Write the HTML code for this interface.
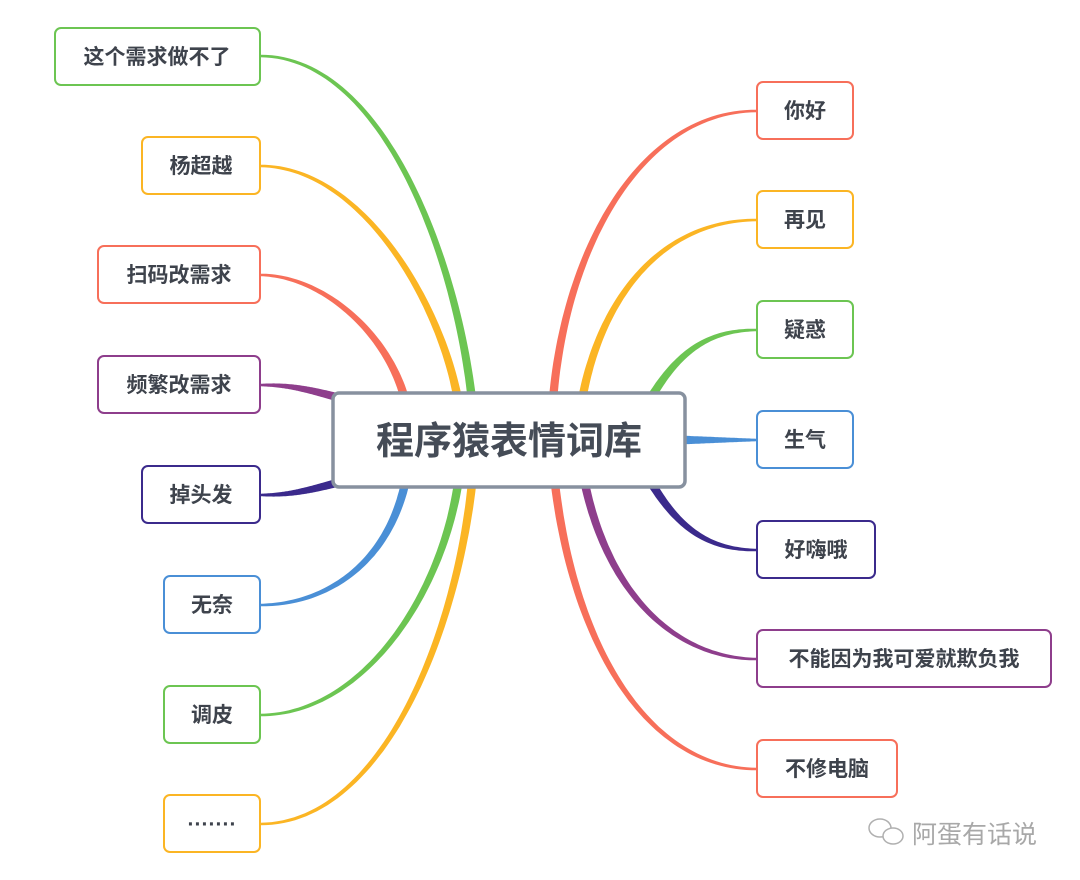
<!DOCTYPE html>
<html><head><meta charset="utf-8"><style>
html,body{margin:0;padding:0;background:#fff;}
svg{display:block}
text{font-family:"Liberation Sans","Noto Sans CJK SC",sans-serif;}
</style></head><body>
<svg id="s" width="1080" height="880" viewBox="0 0 1080 880" xmlns="http://www.w3.org/2000/svg">
<g id="conns" fill="none" stroke-width="4.5">
  <path stroke="#6cc552" d="M472,400 C455,250 380,56 260,56"/>
  <path stroke="#fbb524" d="M458,400 C440,300 360,166 260,166"/>
  <path stroke="#f76f5a" d="M404,396 C385,330 320,275 260,275"/>
  <path stroke="#8e3e8c" d="M340,398 C300,387 285,385 260,385"/>
  <path stroke="#3b2a8c" d="M340,482 C300,493 285,495 260,495"/>
  <path stroke="#4a8fd6" d="M405,484 C385,570 320,605 260,605"/>
  <path stroke="#6cc552" d="M458,484 C440,600 360,715 260,715"/>
  <path stroke="#fbb524" d="M472,484 C455,640 380,824 260,824"/>
  <path stroke="#f76f5a" d="M553,400 C565,250 640,111 757,111"/>
  <path stroke="#fbb524" d="M582,400 C600,300 660,220 757,220"/>
  <path stroke="#6cc552" d="M652,396 C680,350 710,330 757,330"/>
  <path stroke="#4a8fd6" d="M684,440 C710,440 730,440 757,440"/>
  <path stroke="#3b2a8c" d="M652,484 C680,530 710,550 757,550"/>
  <path stroke="#8e3e8c" d="M585,484 C610,600 680,659 757,659"/>
  <path stroke="#f76f5a" d="M555,484 C575,650 650,769 757,769"/>
</g>

<rect x="333" y="393" width="352" height="94" rx="6" fill="#fff" stroke="#87919f" stroke-width="3.5"/>
<text x="509" y="454" font-size="38" font-weight="bold" fill="#454c57" text-anchor="middle">程序猿表情词库</text>

<g font-size="21" font-weight="bold" fill="#3e434c" text-anchor="middle" stroke-width="2">
  <rect x="55" y="28" width="205" height="57" rx="6" fill="#fff" stroke="#6cc552"/>
  <text x="157" y="64">这个需求做不了</text>
  <rect x="142" y="137" width="118" height="57" rx="6" fill="#fff" stroke="#fbb524"/>
  <text x="201" y="173">杨超越</text>
  <rect x="98" y="246" width="162" height="57" rx="6" fill="#fff" stroke="#f76f5a"/>
  <text x="179" y="282">扫码改需求</text>
  <rect x="98" y="356" width="162" height="57" rx="6" fill="#fff" stroke="#8e3e8c"/>
  <text x="179" y="392">频繁改需求</text>
  <rect x="142" y="466" width="118" height="57" rx="6" fill="#fff" stroke="#3b2a8c"/>
  <text x="201" y="502">掉头发</text>
  <rect x="164" y="576" width="96" height="57" rx="6" fill="#fff" stroke="#4a8fd6"/>
  <text x="212" y="612">无奈</text>
  <rect x="164" y="686" width="96" height="57" rx="6" fill="#fff" stroke="#6cc552"/>
  <text x="212" y="722">调皮</text>
  <rect x="164" y="795" width="96" height="57" rx="6" fill="#fff" stroke="#fbb524"/>
  <text x="212" y="831">·······</text>

  <rect x="757" y="82" width="96" height="57" rx="6" fill="#fff" stroke="#f76f5a"/>
  <text x="805" y="118">你好</text>
  <rect x="757" y="191" width="96" height="57" rx="6" fill="#fff" stroke="#fbb524"/>
  <text x="805" y="227">再见</text>
  <rect x="757" y="301" width="96" height="57" rx="6" fill="#fff" stroke="#6cc552"/>
  <text x="805" y="337">疑惑</text>
  <rect x="757" y="411" width="96" height="57" rx="6" fill="#fff" stroke="#4a8fd6"/>
  <text x="805" y="447">生气</text>
  <rect x="757" y="521" width="118" height="57" rx="6" fill="#fff" stroke="#3b2a8c"/>
  <text x="816" y="557">好嗨哦</text>
  <rect x="757" y="630" width="294" height="57" rx="6" fill="#fff" stroke="#8e3e8c"/>
  <text x="904" y="666">不能因为我可爱就欺负我</text>
  <rect x="757" y="740" width="140" height="57" rx="6" fill="#fff" stroke="#f76f5a"/>
  <text x="827" y="776">不修电脑</text>
</g>

<g fill="none" stroke="#b0b0b0" stroke-width="1.5">
  <ellipse cx="880" cy="828" rx="11" ry="9"/>
  <ellipse cx="893" cy="836" rx="10" ry="8" fill="#fff"/>
</g>
<text x="912" y="843" font-size="25" fill="#a8a8a8">阿蛋有话说</text>
</svg>
<script>
(function(){
  var g=document.getElementById('conns');
  var paths=[].slice.call(g.querySelectorAll('path'));
  var NS='http://www.w3.org/2000/svg';
  paths.forEach(function(p){
    var n=p.getAttribute('d').match(/-?[\d.]+/g).map(Number);
    var P=[[n[0],n[1]],[n[2],n[3]],[n[4],n[5]],[n[6],n[7]]];
    var N=60,L=[],R=[];
    for(var i=0;i<=N;i++){
      var t=i/N,u=1-t;
      var x=u*u*u*P[0][0]+3*u*u*t*P[1][0]+3*u*t*t*P[2][0]+t*t*t*P[3][0];
      var y=u*u*u*P[0][1]+3*u*u*t*P[1][1]+3*u*t*t*P[2][1]+t*t*t*P[3][1];
      var dx=3*u*u*(P[1][0]-P[0][0])+6*u*t*(P[2][0]-P[1][0])+3*t*t*(P[3][0]-P[2][0]);
      var dy=3*u*u*(P[1][1]-P[0][1])+6*u*t*(P[2][1]-P[1][1])+3*t*t*(P[3][1]-P[2][1]);
      var l=Math.sqrt(dx*dx+dy*dy)||1;
      var w=(8.5-6*t)/2;
      var nx=-dy/l*w,ny=dx/l*w;
      L.push((x+nx).toFixed(1)+','+(y+ny).toFixed(1));
      R.unshift((x-nx).toFixed(1)+','+(y-ny).toFixed(1));
    }
    var poly=document.createElementNS(NS,'polygon');
    poly.setAttribute('points',L.concat(R).join(' '));
    poly.setAttribute('fill',p.getAttribute('stroke'));
    g.appendChild(poly);
    g.removeChild(p);
  });
})();
</script>
</body></html>
